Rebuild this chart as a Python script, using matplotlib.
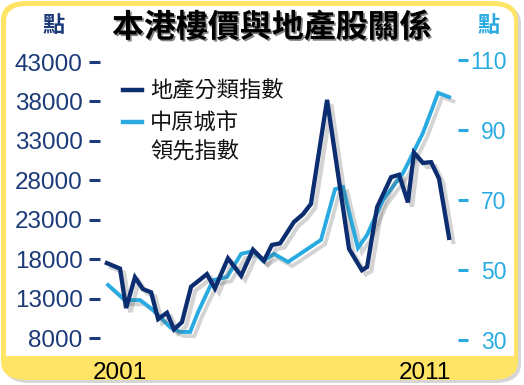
import matplotlib
matplotlib.use("Agg")
import matplotlib.pyplot as plt
import matplotlib.patheffects as pe
from matplotlib.patches import FancyBboxPatch, Rectangle
from matplotlib.lines import Line2D

# 地產分類指數 (left axis)
prop_x = [2000.57, 2001.0, 2001.2, 2001.49, 2001.75, 2002.02, 2002.25, 2002.54,
          2002.77, 2003.03, 2003.33, 2003.85, 2004.11, 2004.54, 2004.97, 2005.36,
          2005.72, 2005.98, 2006.25, 2006.70, 2007.0, 2007.26, 2007.79, 2008.51,
          2008.93, 2009.10, 2009.43, 2009.89, 2010.15, 2010.44, 2010.64, 2010.93,
          2011.20, 2011.46, 2011.79]
prop_y = [17500, 16800, 11800, 15700, 14200, 13800, 10400, 11200, 9100, 10000,
          14500, 16100, 14300, 18100, 15900, 19200, 17800, 19800, 20000, 22700,
          23700, 25000, 38200, 19300, 16600, 17000, 24600, 28400, 28700, 25200,
          31500, 30200, 30300, 28200, 20700]

# 中原城市領先指數 (right axis)
cc_x = [2000.61, 2001.16, 2001.66, 2002.08, 2002.64, 2002.97, 2003.30, 2003.56,
        2004.05, 2004.51, 2004.97, 2005.36, 2005.69, 2006.05, 2006.51, 2007.59,
        2008.05, 2008.31, 2008.80, 2009.10, 2009.62, 2010.28, 2010.93, 2011.43,
        2011.79]
cc_y = [45.7, 41.4, 41.4, 38.6, 33.7, 32.3, 32.3, 38.0, 47.1, 48.0, 54.6, 55.4,
        52.6, 54.6, 52.3, 58.6, 73.1, 73.7, 56.3, 60.0, 70.0, 77.7, 89.1, 100.6,
        99.4]

left_ticks = [8000, 13000, 18000, 23000, 28000, 33000, 38000, 43000]
right_ticks = [30, 50, 70, 90, 110]
year_ticks = [2001, 2011]

navy = "#0c2d6f"
cyan = "#29abe2"
yellow = "#ffe466"
cjk = ["Noto Sans CJK TC", "DejaVu Sans"]
W, H = 524, 385

fig = plt.figure(figsize=(5.24, 3.85), dpi=100, facecolor="white")

def fx(px):
    return px / W

def fy(py):
    return 1 - py / H

# frame
fig.add_artist(FancyBboxPatch((fx(4), fy(383)), fx(517), 379 / H,
                              boxstyle="round,pad=0,rounding_size=0.05",
                              transform=fig.transFigure, fc="#bbbbbb", ec="none",
                              alpha=0.6, zorder=-4))
fig.add_artist(FancyBboxPatch((fx(1), fy(380)), fx(517), 379 / H,
                              boxstyle="round,pad=0,rounding_size=0.05",
                              transform=fig.transFigure, fc=yellow, ec="none",
                              zorder=-3))
fig.add_artist(FancyBboxPatch((fx(6), fy(370)), fx(508), 364 / H,
                              boxstyle="round,pad=0,rounding_size=0.04",
                              transform=fig.transFigure, fc="white", ec="none",
                              zorder=-2))
fig.add_artist(Rectangle((fx(4), fy(372)), fx(512), 16 / H,
                         transform=fig.transFigure, fc=yellow, ec="none",
                         zorder=-1))

ax = fig.add_axes([fx(100), fy(352), fx(358), 302 / H])
ax.set_facecolor("none")
ax2 = ax.twinx()
ax2.set_facecolor("none")

shadow = [pe.SimpleLineShadow(offset=(3, -3), shadow_color="#555555", alpha=0.25),
          pe.Normal()]
ax2.plot(cc_x, cc_y, color=cyan, lw=2.8, solid_joinstyle="miter",
         path_effects=shadow, zorder=2)
ax.plot(prop_x, prop_y, color=navy, lw=3.1, solid_joinstyle="miter",
        path_effects=shadow, zorder=3)
ax2.set_zorder(1)
ax.set_zorder(2)

ax.set_xlim(2000.344, 2012.082)
ax.set_ylim(6226, 44522)
ax2.set_ylim(26.57, 112.86)

for a in (ax, ax2):
    for s in a.spines.values():
        s.set_visible(False)

ax.set_yticks(left_ticks)
ax.set_yticklabels([str(v) for v in left_ticks], fontsize=17.5,
                   family="Liberation Sans", color="#1b3a78")
ax.tick_params(axis="y", length=8, width=2.2, color="#1b3a78", pad=4.5)

ax2.set_yticks(right_ticks)
ax2.set_yticklabels([str(v) for v in right_ticks], fontsize=16.5,
                    family="Liberation Sans", color=cyan, ha="right")
ax2.tick_params(axis="y", length=7, width=2.2, color=cyan, pad=28)

ax.set_xticks(year_ticks)
ax.set_xticklabels([str(v) for v in year_ticks], fontsize=17.5,
                   family="Liberation Sans", color="black")
ax.tick_params(axis="x", length=0, pad=7)

# titles
fig.text(fx(272), fy(28), "本港樓價與地產股關係", family=cjk, fontsize=23,
         weight="heavy", color="black", ha="center", va="center",
         path_effects=[pe.withSimplePatchShadow(offset=(1.2, -1.2),
                                               shadow_rgbFace="#777777",
                                               alpha=0.9)])
fig.text(fx(54), fy(26), "點", family=cjk, fontsize=16, weight="bold",
         color="#1b3a78", ha="center", va="center")
fig.text(fx(489), fy(26), "點", family=cjk, fontsize=16, weight="bold",
         color=cyan, ha="center", va="center")

# legend
fig.add_artist(Line2D([fx(123), fx(142)], [fy(90), fy(90)], color=navy, lw=3.2,
                      transform=fig.transFigure))
fig.add_artist(Line2D([fx(123), fx(142)], [fy(122), fy(122)], color=cyan, lw=3.2,
                      transform=fig.transFigure))
fig.text(fx(150), fy(90), "地產分類指數", family=cjk, fontsize=16,
         color="#111111", va="center")
fig.text(fx(150), fy(122), "中原城市", family=cjk, fontsize=16,
         color="#111111", va="center")
fig.text(fx(150), fy(151), "領先指數", family=cjk, fontsize=16,
         color="#111111", va="center")

fig.savefig("out.png", dpi=100, facecolor="white")
